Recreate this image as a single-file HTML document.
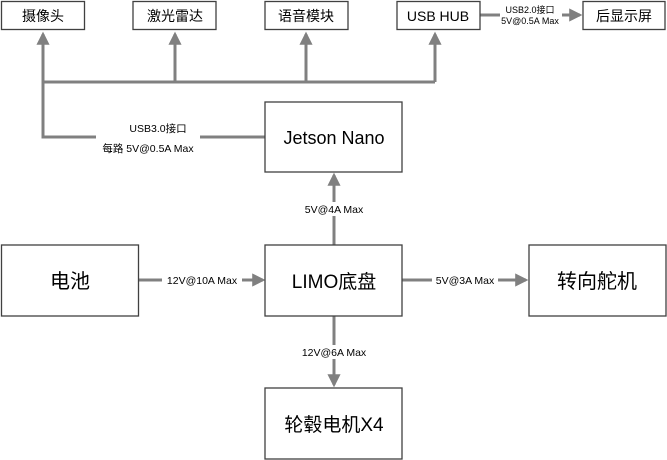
<!DOCTYPE html>
<html><head><meta charset="utf-8"><style>
html,body{margin:0;padding:0;background:#fff;}
svg{display:block;}
text{font-family:"Liberation Sans","Noto Sans CJK SC",sans-serif;fill:#000;}
</style></head><body>
<svg width="667" height="460" viewBox="0 0 667 460" xmlns="http://www.w3.org/2000/svg">
<defs>
<marker id="a" markerWidth="4.4" markerHeight="4.4" refX="3.6" refY="2.2" orient="auto" markerUnits="strokeWidth">
<path d="M0,0 L4.4,2.2 L0,4.4 z" fill="#808080"/></marker>
</defs>
<g stroke="#808080" stroke-width="3" fill="none">
<polyline points="265,137 43,137 43,34" marker-end="url(#a)"/>
<line x1="43" y1="82" x2="435" y2="82"/>
<line x1="175" y1="82" x2="175" y2="34" marker-end="url(#a)"/>
<line x1="306" y1="82" x2="306" y2="34" marker-end="url(#a)"/>
<line x1="435" y1="82" x2="435" y2="34" marker-end="url(#a)"/>
<line x1="480" y1="15" x2="580" y2="15" marker-end="url(#a)"/>
<line x1="334" y1="245" x2="334" y2="175" marker-end="url(#a)"/>
<line x1="139" y1="280" x2="263" y2="280" marker-end="url(#a)"/>
<line x1="402" y1="280" x2="526" y2="280" marker-end="url(#a)"/>
<line x1="334" y1="316" x2="334" y2="385" marker-end="url(#a)"/>
</g>
<g fill="#fff">
<rect x="96" y="120" width="104" height="34"/>
<rect x="500" y="5" width="62" height="22"/>
<rect x="298" y="202" width="72" height="14"/>
<rect x="162" y="274" width="80" height="12"/>
<rect x="432" y="274" width="66" height="12"/>
<rect x="296" y="345" width="76" height="14"/>
</g>
<g stroke="#404040" stroke-width="1.3" fill="#fff">
<rect x="1.5" y="1.5" width="83" height="28"/>
<rect x="133" y="1.5" width="83" height="28"/>
<rect x="265" y="1.5" width="83" height="28"/>
<rect x="397" y="1.5" width="83" height="28"/>
<rect x="583" y="1.5" width="82" height="28"/>
<rect x="265" y="102" width="137" height="70"/>
<rect x="1.5" y="245" width="137" height="71"/>
<rect x="265" y="245" width="137" height="71"/>
<rect x="529" y="245" width="137" height="71"/>
<rect x="265" y="388" width="137" height="71"/>
</g>
<g text-anchor="middle" font-size="14">
<text x="43" y="21">摄像头</text>
<text x="175" y="21">激光雷达</text>
<text x="306" y="21">语音模块</text>
<text x="438" y="21">USB HUB</text>
<text x="624" y="21">后显示屏</text>
<text x="334" y="144" font-size="18">Jetson Nano</text>
<text x="70" y="288" font-size="20">电池</text>
<text x="334" y="288" font-size="19">LIMO底盘</text>
<text x="597" y="288" font-size="20">转向舵机</text>
<text x="334" y="431" font-size="19">轮毂电机X4</text>
</g>
<g text-anchor="middle" font-size="10.5">
<text x="158" y="132">USB3.0接口</text>
<text x="148" y="152">每路 5V@0.5A Max</text>
<text x="530" y="13" font-size="9">USB2.0接口</text>
<text x="530" y="24" font-size="9">5V@0.5A Max</text>
<text x="334" y="213">5V@4A Max</text>
<text x="202" y="284">12V@10A Max</text>
<text x="465" y="284">5V@3A Max</text>
<text x="334" y="356">12V@6A Max</text>
</g>
</svg>
</body></html>
